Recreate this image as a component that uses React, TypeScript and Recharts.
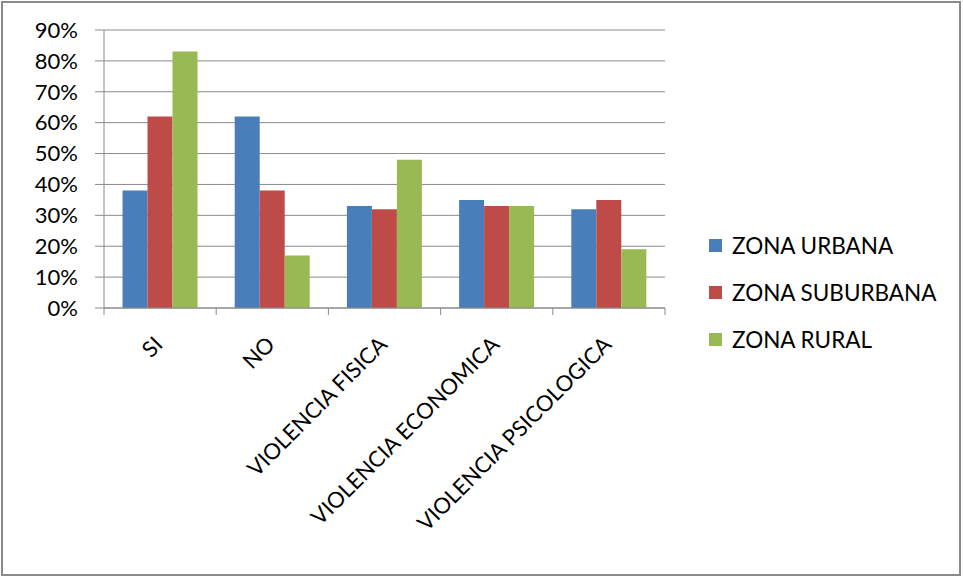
import React from 'react';
import { BarChart, Bar, XAxis, YAxis, CartesianGrid } from 'recharts';

const categories = ['SI', 'NO', 'VIOLENCIA FISICA', 'VIOLENCIA ECONOMICA', 'VIOLENCIA PSICOLOGICA'];
const zonaUrbana = [38, 62, 33, 35, 32];
const zonaSuburbana = [62, 38, 32, 33, 35];
const zonaRural = [83, 17, 48, 33, 19];
const yTicks = [0, 10, 20, 30, 40, 50, 60, 70, 80, 90];

const seriesNames = ['ZONA URBANA', 'ZONA SUBURBANA', 'ZONA RURAL'];
const colors = ['#4a7ebb', '#be4b48', '#98b954'];

const data = categories.map((name, i) => ({
  name,
  urbana: zonaUrbana[i],
  suburbana: zonaSuburbana[i],
  rural: zonaRural[i],
}));

const W = 963;
const H = 577;
const PLOT_LEFT = 104;
const PLOT_RIGHT = 665;
const PLOT_TOP = 30;
const PLOT_BOTTOM = 308;
const BAND = (PLOT_RIGHT - PLOT_LEFT) / categories.length;
const FONT = 'Lato, "Open Sans", sans-serif';

// rotated category labels plus tick marks at the category boundaries
const XTick = ({ x, y, payload, index }: any) => {
  const left = x - BAND / 2;
  const isLast = index === categories.length - 1;
  return (
    <g>
      <line x1={left} y1={PLOT_BOTTOM} x2={left} y2={PLOT_BOTTOM + 7} stroke="#8a8a8a" />
      {isLast && <line x1={left + BAND} y1={PLOT_BOTTOM} x2={left + BAND} y2={PLOT_BOTTOM + 7} stroke="#8a8a8a" />}
      <text
        transform={`translate(${x + 4},${y + 30}) rotate(-45)`}
        textAnchor="end"
        fontSize={22}
        fontFamily={FONT}
        fill="#000"
      >
        {payload.value}
      </text>
    </g>
  );
};

const LegendBox = () => (
  <div style={{ position: 'absolute', left: 709, top: 222, fontFamily: FONT, fontSize: 22.5, color: '#000' }}>
    {seriesNames.map((n, i) => (
      <div key={n} style={{ display: 'flex', alignItems: 'center', height: 47 }}>
        <span style={{ width: 13, height: 13, background: colors[i], marginRight: 10, display: 'inline-block' }} />
        <span>{n}</span>
      </div>
    ))}
  </div>
);

export default function App() {
  return (
    <div style={{ position: 'absolute', top: 0, left: 0, width: W, height: H, background: '#fff' }}>
      <div
        style={{
          position: 'absolute',
          left: 1,
          top: 1,
          width: 960,
          height: 575,
          border: '2px solid #8a8a8a',
          boxSizing: 'border-box',
        }}
      />
      <div style={{ position: 'absolute', left: 0, top: 0 }}>
        <BarChart
          width={W}
          height={H}
          data={data}
          margin={{ top: PLOT_TOP, right: W - PLOT_RIGHT, bottom: 0, left: 0 }}
          barCategoryGap="16.5%"
          barGap={0}
        >
          <CartesianGrid vertical={false} stroke="#8a8a8a" />
          <XAxis
            dataKey="name"
            height={H - PLOT_BOTTOM}
            axisLine={{ stroke: '#8a8a8a' }}
            tickLine={false}
            interval={0}
            tick={<XTick />}
          />
          <YAxis
            width={PLOT_LEFT}
            domain={[0, 90]}
            ticks={yTicks}
            interval={0}
            tickFormatter={(v) => `${v}%`}
            axisLine={{ stroke: '#8a8a8a' }}
            tickLine={{ stroke: '#8a8a8a' }}
            tickSize={9}
            tickMargin={17}
            tick={{ fill: '#000', fontSize: 22, fontFamily: FONT }}
          />
          <Bar dataKey="urbana" name={seriesNames[0]} fill={colors[0]} isAnimationActive={false} />
          <Bar dataKey="suburbana" name={seriesNames[1]} fill={colors[1]} isAnimationActive={false} />
          <Bar dataKey="rural" name={seriesNames[2]} fill={colors[2]} isAnimationActive={false} />
        </BarChart>
      </div>
      <LegendBox />
    </div>
  );
}
